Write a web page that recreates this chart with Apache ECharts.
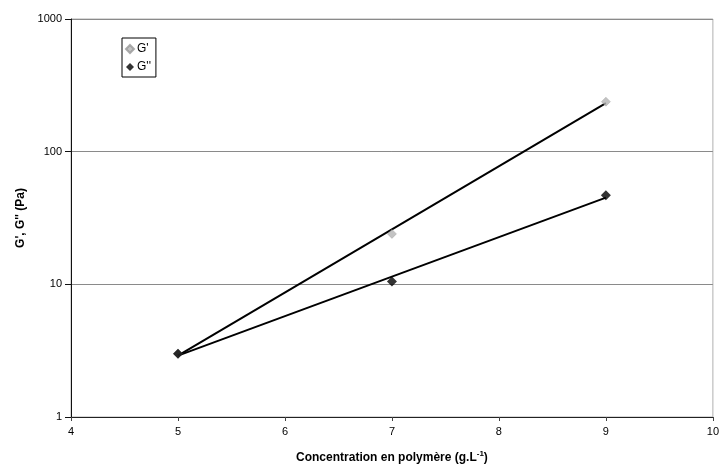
<!DOCTYPE html>
<html>
<head>
<meta charset="utf-8">
<script src="https://cdn.jsdelivr.net/npm/echarts@6/dist/echarts.min.js"></script>
<style>html,body{margin:0;padding:0;background:#fff}#c{width:722px;height:470px}</style>
</head>
<body>
<div id="c"></div>
<script>
// Data
const concentration = [5, 7, 9];
const gPrime = [3.0, 24, 238];
const gDoublePrime = [3.0, 10.5, 47];
// Exponential trend lines (straight on log axis): endpoints
const trendX = [5, 9];
const trendGPrime = [2.9, 232];
const trendGDoublePrime = [2.9, 45];
const xTicks = [4, 5, 6, 7, 8, 9, 10];
const yTicks = [1, 10, 100, 1000];

const pairs = (xs, ys) => xs.map((x, i) => [x, ys[i]]);

const chart = echarts.init(document.getElementById('c'));
const font = 'Liberation Sans, Arial, sans-serif';
chart.setOption({
  animation: false,
  backgroundColor: '#fff',
  grid: { left: 71, right: 6, top: 19, bottom: 53, show: true, borderColor: '#b0b0b0', borderWidth: 1 },
  legend: {
    orient: 'vertical', left: 122, top: 38,
    borderColor: '#000', borderWidth: 1, padding: [5, 5, 4, 3], itemGap: 6,
    itemWidth: 8, itemHeight: 8,
    textStyle: { fontFamily: font, fontSize: 12, color: '#000', padding: [0, 0, 0, -2] },
    data: [{ name: "G'", icon: 'diamond' }, { name: "G''", icon: 'diamond' }]
  },
  xAxis: {
    type: 'value', min: xTicks[0], max: xTicks[xTicks.length - 1], interval: 1,
    name: 'Concentration en polymère (g.L{sup|-1})',
    nameLocation: 'middle', nameGap: 33,
    nameTextStyle: { fontFamily: font, fontSize: 12, fontWeight: 'bold', color: '#000',
      rich: { sup: { fontFamily: font, fontSize: 8, fontWeight: 'bold', verticalAlign: 'top', padding: [0, 0, 8, 0] } } },
    axisLine: { lineStyle: { color: '#222', width: 1 } },
    axisTick: { show: true, length: 4, lineStyle: { color: '#444' } },
    axisLabel: { fontFamily: font, fontSize: 11, color: '#000', margin: 9 },
    splitLine: { show: false }
  },
  yAxis: {
    type: 'log', logBase: 10, min: yTicks[0], max: yTicks[yTicks.length - 1],
    name: "G', G'' (Pa)", nameLocation: 'middle', nameGap: 42,
    nameTextStyle: { fontFamily: font, fontSize: 12, fontWeight: 'bold', color: '#000' },
    axisLine: { show: true, lineStyle: { color: '#111', width: 1 } },
    axisTick: { show: true, length: 6, lineStyle: { color: '#111' } },
    axisLabel: { fontFamily: font, fontSize: 11, color: '#000', margin: 9, formatter: v => String(Math.round(v)) },
    splitLine: { show: true, lineStyle: { color: '#8a8a8a', width: 1 } }
  },
  series: [
    { name: "G'", type: 'scatter', data: pairs(concentration, gPrime), symbol: 'diamond', symbolSize: 9,
      itemStyle: { color: '#b4b4b4', borderColor: '#999', borderWidth: 0.5 }, z: 5 },
    { name: "G''", type: 'scatter', data: pairs(concentration, gDoublePrime), symbol: 'diamond', symbolSize: 10,
      itemStyle: { color: '#000' }, z: 5 },
    { name: 'trend1', type: 'line', data: pairs(trendX, trendGPrime), showSymbol: false, symbol: 'none',
      lineStyle: { color: '#000', width: 2 }, z: 3 },
    { name: 'trend2', type: 'line', data: pairs(trendX, trendGDoublePrime), showSymbol: false, symbol: 'none',
      lineStyle: { color: '#000', width: 2 }, z: 3 }
  ]
});
</script>
</body>
</html>
